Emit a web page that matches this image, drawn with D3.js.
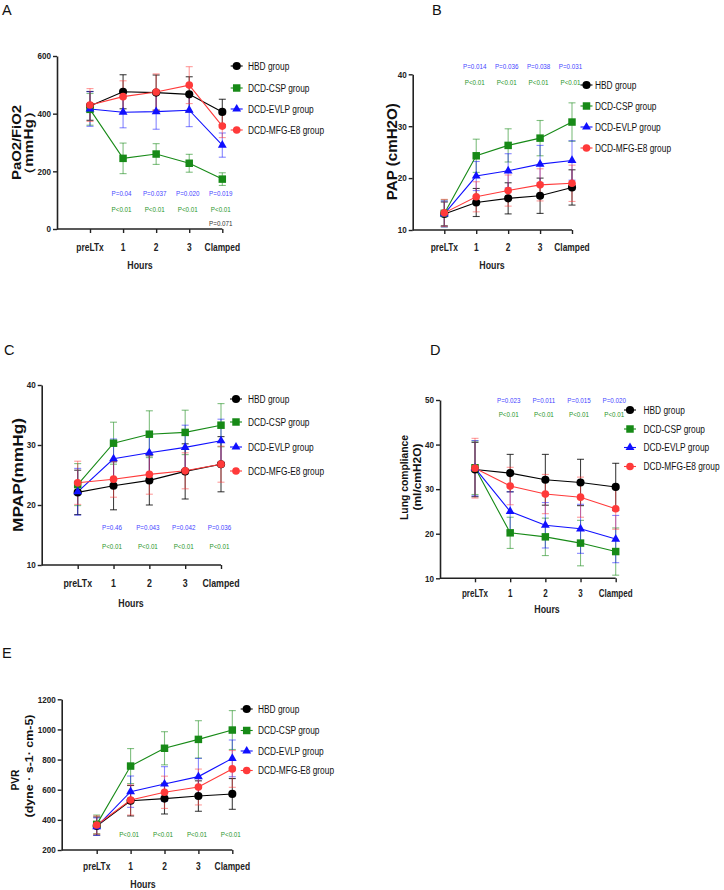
<!DOCTYPE html>
<html>
<head>
<meta charset="utf-8">
<script src="https://cdn.jsdelivr.net/npm/d3@7"></script>
<style>
  html, body { margin: 0; padding: 0; background: #fff; }
  svg { display: block; }
</style>
</head>
<body>
<svg id="chart" width="724" height="890"></svg>
<script>
// ---------------- DATA ----------------
const hours = ["preLTx", "1", "2", "3", "Clamped"];
const groups = ["HBD group", "DCD-CSP group", "DCD-EVLP group", "DCD-MFG-E8 group"];

// A: PaO2/FiO2 (mmHg)
const aHBD = [427, 476, 473, 467, 406];
const aHBDErr = [50, 59, 61, 61, 44];
const aCSP = [415, 245, 260, 228, 173];
const aCSPErr = [55, 53, 36, 31, 22];
const aEVLP = [416, 405, 407, 412, 291];
const aEVLPErr = [60, 54, 61, 57, 42];
const aMFG = [430, 459, 475, 499, 357];
const aMFGErr = [57, 55, 63, 64, 40];
const aYTicks = [0, 200, 400, 600];
const aPBlue = ["P=0.04", "P=0.037", "P=0.020", "P=0.019"];
const aPGreen = ["P<0.01", "P<0.01", "P<0.01", "P<0.01"];
const aPBlack = ["", "", "", "P=0.071"];

// B: PAP (cmH2O)
const bHBD = [13.1, 15.3, 16.1, 16.6, 18.2];
const bHBDErr = [2.3, 2.7, 3.0, 3.4, 3.4];
const bCSP = [13.2, 24.3, 26.3, 27.7, 30.8];
const bCSPErr = [2.6, 3.2, 3.2, 3.4, 3.7];
const bEVLP = [13.1, 20.4, 21.4, 22.7, 23.4];
const bEVLPErr = [2.5, 2.8, 3.3, 3.6, 3.8];
const bMFG = [13.3, 16.4, 17.6, 18.7, 19.0];
const bMFGErr = [2.6, 2.9, 3.0, 3.1, 3.5];
const bYTicks = [10, 20, 30, 40];
const bPBlue = ["P=0.014", "P=0.036", "P=0.038", "P=0.031"];
const bPGreen = ["P<0.01", "P<0.01", "P<0.01", "P<0.01"];

// C: MPAP (mmHg)
const cHBD = [22.1, 23.2, 24.1, 25.6, 26.8];
const cHBDErr = [3.7, 4.0, 4.1, 4.6, 4.6];
const cCSP = [23.4, 30.3, 31.8, 32.1, 33.3];
const cCSPErr = [3.5, 3.5, 3.9, 3.7, 3.6];
const cEVLP = [22.2, 27.7, 28.7, 29.6, 30.7];
const cEVLPErr = [3.9, 3.3, 3.5, 3.7, 3.6];
const cMFG = [23.7, 24.3, 25.1, 25.7, 26.8];
const cMFGErr = [3.6, 3.0, 3.3, 3.0, 3.0];
const cYTicks = [10, 20, 30, 40];
const cPBlue = ["P=0.46", "P=0.043", "P=0.042", "P=0.036"];
const cPGreen = ["P<0.01", "P<0.01", "P<0.01", "P<0.01"];

// D: Lung compliance (ml/cmH2O)
const dHBD = [34.4, 33.6, 32.1, 31.5, 30.5];
const dHBDErr = [6.1, 4.2, 5.7, 5.2, 5.3];
const dCSP = [34.8, 20.2, 19.3, 17.9, 16.0];
const dCSPErr = [6.0, 3.5, 4.2, 5.1, 5.3];
const dEVLP = [34.7, 25.0, 21.9, 21.1, 18.8];
const dEVLPErr = [6.2, 4.4, 5.1, 5.5, 5.3];
const dMFG = [34.7, 30.7, 28.9, 28.2, 25.6];
const dMFGErr = [6.7, 4.2, 4.4, 4.5, 4.6];
const dYTicks = [10, 20, 30, 40, 50];
const dPBlue = ["P=0.023", "P=0.011", "P=0.015", "P=0.020"];
const dPGreen = ["P<0.01", "P<0.01", "P<0.01", "P<0.01"];

// E: PVR (dyne·s-1·cm-5)
const eHBD = [359, 527, 541, 558, 572];
const eHBDErr = [60, 101, 102, 101, 102];
const eCSP = [370, 757, 875, 934, 996];
const eCSPErr = [62, 116, 110, 124, 129];
const eEVLP = [355, 587, 638, 687, 808];
const eEVLPErr = [58, 104, 115, 121, 122];
const eMFG = [366, 532, 583, 618, 738];
const eMFGErr = [60, 100, 107, 119, 122];
const eYTicks = [200, 400, 600, 800, 1000, 1200];
const ePGreen = ["P<0.01", "P<0.01", "P<0.01", "P<0.01"];

// ---------------- STYLE ----------------
const FONT = "'Liberation Sans', Arial, Helvetica, sans-serif";
const colors = ["#000000", "#178a17", "#1010ff", "#ff3a3a"];
const errOpacity = [0.75, 0.55, 0.5, 0.5];
const shapes = [d3.symbolCircle, d3.symbolSquare, d3.symbolTriangle, d3.symbolCircle];
const shapeSize = [52, 56, 34, 46];
const pColors = { blue: "#4646ff", green: "#2a962a", black: "#333333" };

// ---------------- LAYOUT ----------------
const panels = [
  { letter: "A", letterPos: [2, 15], axisX: 57, xRange: [90, 222.3], yDomain: [0, 600], yRange: [229, 56],
    yTicks: aYTicks, series: [aHBD, aCSP, aEVLP, aMFG], errs: [aHBDErr, aCSPErr, aEVLPErr, aMFGErr],
    pTexts: [[aPBlue, "blue", 193], [aPGreen, "green", 209], [aPBlack, "black", 223.5]],
    legend: { mx: 236.7, tx: 248, rows: [66, 88, 109, 130] },
    xLabY: 250.5, xLabSx: 0.84, hours: [140, 269],
    yLabels: [{ t: "PaO2/FiO2", x: 16, y: 142.5, len: 75, size: 13 },
              { t: "（mmHg）", x: 28.5, y: 143, len: 78, size: 12 }] },
  { letter: "B", letterPos: [432, 15], axisX: 412.7, xRange: [444.3, 572], yDomain: [10, 40], yRange: [230, 74.3],
    yTicks: bYTicks, series: [bHBD, bCSP, bEVLP, bMFG], errs: [bHBDErr, bCSPErr, bEVLPErr, bMFGErr],
    pTexts: [[bPBlue, "blue", 66.5], [bPGreen, "green", 82.5]],
    legend: { mx: 586.5, tx: 595, rows: [85, 106, 127, 148] },
    xLabY: 250.5, xLabSx: 0.84, hours: [492, 269],
    yLabels: [{ t: "PAP (cmH2O)", x: 392, y: 151.7, len: 97, size: 14 }] },
  { letter: "C", letterPos: [4, 355], axisX: 41.7, xRange: [77.7, 221], yDomain: [10, 40], yRange: [565, 385],
    yTicks: cYTicks, series: [cHBD, cCSP, cEVLP, cMFG], errs: [cHBDErr, cCSPErr, cEVLPErr, cMFGErr],
    pTexts: [[cPBlue, "blue", 527.7], [cPGreen, "green", 546.7]],
    legend: { mx: 236, tx: 248, rows: [399, 422, 447, 471] },
    xLabY: 587, xLabSx: 0.88, hours: [131, 607],
    yLabels: [{ t: "MPAP(mmHg)", x: 17.7, y: 475, len: 114, size: 15 }] },
  { letter: "D", letterPos: [430, 355], axisX: 440, xRange: [475, 615.7], yDomain: [10, 50], yRange: [578.3, 400],
    yTicks: dYTicks, series: [dHBD, dCSP, dEVLP, dMFG], errs: [dHBDErr, dCSPErr, dEVLPErr, dMFGErr],
    pTexts: [[dPBlue, "blue", 400.5], [dPGreen, "green", 414]],
    legend: { mx: 630, tx: 643.5, rows: [410, 429, 447.5, 466.5] },
    xLabY: 597, xLabSx: 0.8, hours: [547, 613],
    yLabels: [{ t: "Lung compliance", x: 404.5, y: 477.5, len: 85, size: 10.5 },
              { t: "(ml/cmH2O)", x: 417.5, y: 477, len: 67, size: 10.5 }] },
  { letter: "E", letterPos: [2, 658], axisX: 61.7, xRange: [96.7, 232.3], yDomain: [200, 1200], yRange: [850, 699.3],
    yTicks: eYTicks, series: [eHBD, eCSP, eEVLP, eMFG], errs: [eHBDErr, eCSPErr, eEVLPErr, eMFGErr],
    pTexts: [[ePGreen, "green", 834]],
    legend: { mx: 246.7, tx: 258, rows: [709, 730.5, 751, 770.5] },
    xLabY: 870, xLabSx: 0.84, hours: [143, 888],
    yLabels: [{ t: "PVR", x: 15, y: 780, len: 21, size: 11 },
              { t: "(dyne · s-1· cm-5)", x: 29, y: 766, len: 103, size: 11.5 }] }
];

// ---------------- HELPERS ----------------
const svg = d3.select("#chart");

function txt(g, x, y, s, o) {
  const t = g.append("text")
    .attr("transform", `translate(${x},${y}) scale(${o.sx || 1},1)`)
    .attr("font-family", FONT)
    .attr("font-size", o.size)
    .attr("font-weight", o.weight || "normal")
    .attr("fill", o.fill || "#000")
    .attr("text-anchor", o.anchor || "start");
  if (o.dy) t.attr("dy", o.dy);
  t.text(s);
  return t;
}

function drawPanel(p) {
  const g = svg.append("g");
  const x = d3.scalePoint().domain(hours).range(p.xRange).padding(0);
  const y = d3.scaleLinear().domain(p.yDomain).range(p.yRange);
  const axisY = p.yRange[0];

  // panel letter
  txt(g, p.letterPos[0], p.letterPos[1], p.letter, { size: 14.5, fill: "#111" });

  // y axis
  const yAxis = d3.axisLeft(y).tickValues(p.yTicks).tickSize(4).tickSizeOuter(0).tickFormat("");
  const ya = g.append("g").attr("transform", `translate(${p.axisX},0)`).call(yAxis);
  ya.select(".domain").attr("stroke", "#222").attr("stroke-width", 1.6);
  ya.selectAll(".tick line").attr("stroke", "#222").attr("stroke-width", 1.4);
  p.yTicks.forEach(v => txt(g, p.axisX - 6, y(v), String(v),
    { size: 9.5, weight: "bold", anchor: "end", sx: 0.85, dy: "0.35em", fill: "#222" }));

  // x axis
  const xAxis = d3.axisBottom(x).tickSize(4).tickSizeOuter(0).tickFormat("");
  const xa = g.append("g").attr("transform", `translate(0,${axisY})`).call(xAxis);
  xa.select(".domain").remove();
  xa.selectAll(".tick line").attr("stroke", "#222").attr("stroke-width", 1.4);
  g.append("line").attr("x1", p.axisX).attr("x2", x(hours[hours.length - 1]))
    .attr("y1", axisY).attr("y2", axisY).attr("stroke", "#222").attr("stroke-width", 1.6);
  hours.forEach(h => txt(g, x(h), p.xLabY, h,
    { size: 10, weight: "bold", anchor: "middle", sx: p.xLabSx, fill: "#222" }));
  txt(g, p.hours[0], p.hours[1], "Hours", { size: 11, weight: "bold", anchor: "middle", sx: 0.8, fill: "#222" });

  // y labels (rotated)
  p.yLabels.forEach(l => {
    g.append("text")
      .attr("transform", `translate(${l.x + l.size * 0.36},${l.y}) rotate(-90)`)
      .attr("font-family", FONT).attr("font-size", l.size).attr("font-weight", "bold")
      .attr("fill", "#111").attr("text-anchor", "middle")
      .attr("textLength", l.len).attr("lengthAdjust", "spacingAndGlyphs")
      .text(l.t);
  });

  // error bars
  const cap = 3.5;
  p.series.forEach((vals, gi) => {
    const eg = g.append("g").attr("stroke", colors[gi]).attr("stroke-opacity", errOpacity[gi]).attr("stroke-width", 1.1);
    vals.forEach((v, i) => {
      const cx = x(hours[i]);
      const e = p.errs[gi][i];
      const y1 = y(v - e), y2 = y(v + e);
      eg.append("line").attr("x1", cx).attr("x2", cx).attr("y1", y1).attr("y2", y2);
      eg.append("line").attr("x1", cx - cap).attr("x2", cx + cap).attr("y1", y1).attr("y2", y1);
      eg.append("line").attr("x1", cx - cap).attr("x2", cx + cap).attr("y1", y2).attr("y2", y2);
    });
  });

  // lines
  const line = d3.line().x((d, i) => x(hours[i])).y(d => y(d));
  p.series.forEach((vals, gi) => {
    g.append("path").datum(vals).attr("d", line).attr("fill", "none")
      .attr("stroke", colors[gi]).attr("stroke-width", 1.1);
  });

  // markers
  p.series.forEach((vals, gi) => {
    const sym = d3.symbol().type(shapes[gi]).size(shapeSize[gi]);
    g.selectAll(null).data(vals).enter().append("path")
      .attr("d", sym)
      .attr("transform", (d, i) => `translate(${x(hours[i])},${y(d)})`)
      .attr("fill", colors[gi]);
  });

  // P-value annotations
  p.pTexts.forEach(([arr, col, yy]) => {
    arr.forEach((s, i) => {
      if (!s) return;
      txt(g, x(hours[i + 1]) - 1.5, yy, s, { size: 7.8, anchor: "middle", sx: 0.8, dy: "0.35em", fill: pColors[col] });
    });
  });

  // legend
  groups.forEach((name, gi) => {
    const ly = p.legend.rows[gi];
    const mx = p.legend.mx;
    g.append("line").attr("x1", mx - 6).attr("x2", mx + 6).attr("y1", ly).attr("y2", ly)
      .attr("stroke", colors[gi]).attr("stroke-width", 1.1);
    g.append("path").attr("d", d3.symbol().type(shapes[gi]).size(shapeSize[gi]))
      .attr("transform", `translate(${mx},${ly})`).attr("fill", colors[gi]);
    txt(g, p.legend.tx, ly, name, { size: 11, sx: 0.76, dy: "0.35em", fill: "#111" });
  });
}

panels.forEach(drawPanel);
</script>
</body>
</html>
